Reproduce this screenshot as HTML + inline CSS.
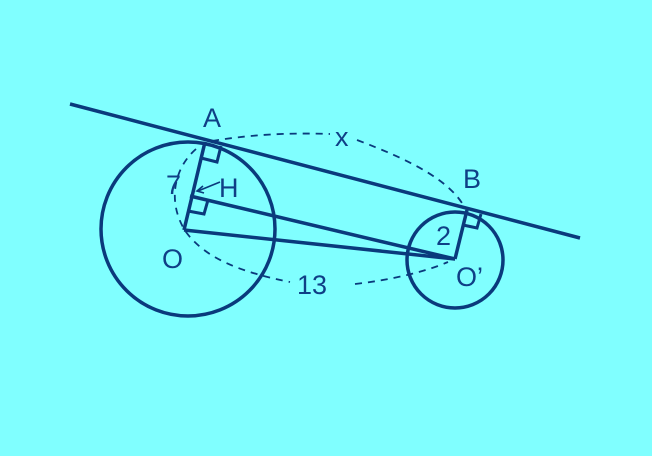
<!DOCTYPE html>
<html><head><style>
html,body{margin:0;padding:0;background:#80ffff;}
svg{display:block}
text{font-family:"Liberation Sans",sans-serif;fill:#0f3f86;font-size:27px}
</style></head><body>
<svg width="652" height="456" viewBox="0 0 652 456">
<rect width="652" height="456" fill="#80ffff"/>
<g fill="none" stroke="#0a3a7c" stroke-width="3.5">
<circle cx="188" cy="229" r="87"/>
<circle cx="455" cy="260" r="48"/>
<line x1="70" y1="104" x2="580" y2="238"/>
<line x1="205" y1="142" x2="184" y2="230"/>
<line x1="184" y1="230" x2="455" y2="259"/>
<line x1="190" y1="196" x2="455" y2="259"/>
<line x1="455" y1="259" x2="467" y2="210"/>
<polyline points="221,146 217,162 201,158" stroke-width="3"/>
<polyline points="208,200 204,214 188,211" stroke-width="3"/>
<polyline points="481,214 477,228 463,225" stroke-width="3"/>
</g>
<g fill="none" stroke="#0a3a7c" stroke-width="1.8" stroke-dasharray="7,6">
<path d="M212,141 C260,133 300,133 330,134"/>
<path d="M357,140 C410,160 450,180 465,208"/>
<path d="M196,149 C172,170 168,205 186,232 C205,258 240,272 290,282"/>
<path d="M355,284 C390,280 425,272 448,262"/>
</g>
<g stroke="#0a3a7c" stroke-width="1.6" fill="none">
<line x1="220" y1="182" x2="198" y2="191"/>
<polyline points="203,186 197,191 204,193"/>
</g>
<text x="203" y="127">A</text>
<text x="335" y="146" font-size="23">x</text>
<text x="463" y="188">B</text>
<text x="166" y="194">7</text>
<text x="219" y="197">H</text>
<text x="162" y="268">O</text>
<text x="297" y="294">13</text>
<text x="436" y="245">2</text>
<text x="456" y="286">O’</text>
</svg>
</body></html>
